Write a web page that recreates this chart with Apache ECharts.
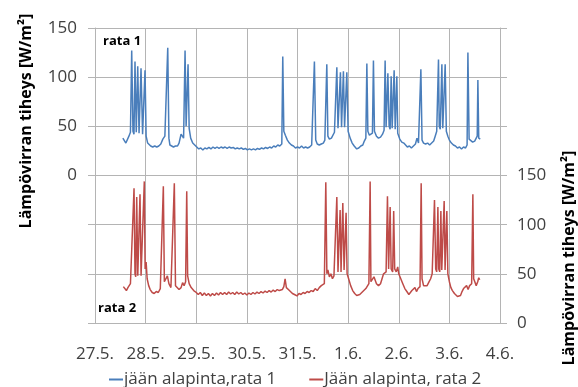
<!DOCTYPE html>
<html>
<head>
<meta charset="utf-8">
<script src="https://cdn.jsdelivr.net/npm/echarts@6/dist/echarts.min.js"></script>
<style>
  html, body { margin: 0; padding: 0; background: #fff; }
  #chart { width: 578px; height: 387px; }
</style>
</head>
<body>
<div id="chart"></div>
<script>
// x = days since 27.5.
const xLabels = ['27.5.', '28.5.', '29.5.', '30.5.', '31.5.', '1.6.', '2.6.', '3.6.', '4.6.'];
const seriesNames = ['jään alapinta,rata 1', 'Jään alapinta, rata 2'];

// rata 1, left axis
const rata1 = [
  [0.55, 38], [0.58, 36], [0.61, 33], [0.64, 35], [0.67, 40], [0.70, 44],
  [0.725, 127], [0.75, 45], [0.77, 42], [0.79, 116], [0.815, 44], [0.844, 111], [0.87, 43],
  [0.909, 109], [0.94, 42], [0.988, 107], [1.01, 40], [1.04, 33], [1.07, 31], [1.10, 30],
  [1.14, 29], [1.18, 30], [1.22, 29], [1.26, 30], [1.30, 32], [1.34, 37], [1.38, 40], [1.41, 42],
  [1.437, 130], [1.46, 38], [1.48, 31], [1.51, 30], [1.55, 29], [1.59, 30], [1.63, 30], [1.66, 33],
  [1.70, 42], [1.72, 41], [1.75, 38], [1.779, 127], [1.80, 50], [1.838, 113], [1.86, 48], [1.89, 38],
  [1.93, 33], [1.97, 31], [2.01, 29], [2.05, 27], [2.09, 28], [2.13, 26], [2.17, 28], [2.21, 27],
  [2.25, 28.5], [2.29, 27], [2.33, 29], [2.37, 27.5], [2.41, 29], [2.45, 27.5], [2.49, 29], [2.53, 28],
  [2.57, 29], [2.61, 27.5], [2.65, 29], [2.69, 28], [2.73, 28.5], [2.77, 27], [2.81, 28], [2.85, 27],
  [2.89, 28], [2.93, 26.5], [2.97, 27.5], [3.01, 26], [3.05, 27], [3.09, 26], [3.13, 27], [3.17, 26],
  [3.21, 27.5], [3.25, 26.5], [3.29, 28], [3.33, 27], [3.37, 28.5], [3.41, 27.5], [3.45, 29], [3.49, 28],
  [3.53, 30], [3.57, 29], [3.61, 31], [3.65, 30], [3.69, 32], [3.709, 121], [3.73, 45], [3.76, 41],
  [3.80, 36], [3.84, 33], [3.88, 31], [3.92, 30], [3.96, 28], [4.00, 29], [4.04, 28], [4.08, 30],
  [4.12, 28], [4.16, 29], [4.20, 28], [4.24, 29], [4.28, 31], [4.31, 33], [4.334, 116], [4.36, 36],
  [4.39, 32], [4.43, 31], [4.47, 32], [4.51, 33], [4.54, 36], [4.56, 38], [4.579, 113], [4.60, 40],
  [4.63, 37], [4.67, 38], [4.70, 40], [4.73, 44], [4.76, 46], [4.777, 110], [4.80, 48], [4.82, 46],
  [4.848, 105], [4.87, 49], [4.89, 47], [4.907, 106], [4.93, 49], [4.95, 47], [4.974, 105], [5.00, 45],
  [5.04, 38], [5.08, 33], [5.12, 30], [5.17, 27], [5.21, 28], [5.25, 30], [5.29, 31], [5.32, 35],
  [5.35, 38], [5.37, 114], [5.39, 45], [5.42, 41], [5.45, 40], [5.48, 43], [5.50, 117], [5.52, 45],
  [5.56, 40], [5.60, 38], [5.64, 39], [5.68, 42], [5.71, 46], [5.731, 117], [5.75, 49], [5.77, 47],
  [5.785, 104], [5.81, 50], [5.83, 47], [5.85, 101], [5.87, 48], [5.89, 46], [5.909, 107], [5.93, 47],
  [5.945, 45], [5.962, 101], [5.98, 43], [6.02, 37], [6.06, 34], [6.10, 33], [6.13, 31], [6.17, 29],
  [6.21, 30], [6.25, 28], [6.29, 30], [6.33, 32], [6.36, 38], [6.39, 33], [6.42, 35], [6.437, 108],
  [6.46, 36], [6.49, 33], [6.53, 32], [6.57, 33], [6.61, 31], [6.65, 33], [6.69, 35], [6.72, 40],
  [6.75, 45], [6.77, 47], [6.785, 118], [6.80, 50], [6.82, 47], [6.852, 113], [6.87, 48], [6.89, 46],
  [6.917, 113], [6.94, 45], [6.97, 40], [7.00, 36], [7.04, 33], [7.08, 31], [7.12, 30], [7.16, 28],
  [7.20, 29], [7.24, 27], [7.28, 29], [7.32, 28], [7.35, 31], [7.366, 125], [7.39, 37], [7.42, 36],
  [7.46, 34], [7.50, 35], [7.53, 37], [7.55, 40], [7.563, 97], [7.58, 38], [7.61, 37]
];

// rata 2, right axis
const rata2 = [
  [0.56, 37], [0.59, 35], [0.62, 33], [0.65, 36], [0.68, 38], [0.70, 40], [0.73, 42],
  [0.771, 137], [0.79, 50], [0.805, 47], [0.824, 128], [0.845, 48], [0.865, 46], [0.889, 131],
  [0.91, 48], [0.94, 50], [0.974, 144], [0.99, 55], [1.01, 62], [1.03, 45], [1.06, 38], [1.09, 34],
  [1.13, 31], [1.17, 30], [1.21, 32], [1.25, 31], [1.29, 35], [1.32, 37], [1.35, 139], [1.37, 42],
  [1.40, 45], [1.43, 48], [1.46, 40], [1.50, 36], [1.53, 38], [1.567, 142], [1.59, 38], [1.62, 36],
  [1.66, 34], [1.70, 36], [1.73, 41], [1.76, 38], [1.79, 42], [1.812, 134], [1.83, 48], [1.86, 40],
  [1.90, 36], [1.95, 33], [2.00, 31], [2.04, 29], [2.08, 31], [2.12, 28], [2.16, 30.5], [2.20, 28],
  [2.24, 30], [2.28, 27.5], [2.32, 30], [2.36, 28], [2.40, 30.5], [2.44, 28.5], [2.48, 31], [2.52, 29],
  [2.56, 31], [2.60, 29], [2.64, 31.5], [2.68, 29.5], [2.72, 31], [2.76, 29], [2.80, 31.5], [2.84, 29.5],
  [2.88, 31], [2.92, 29], [2.96, 30.5], [3.00, 28.5], [3.04, 30.5], [3.08, 29], [3.12, 31], [3.16, 29.5],
  [3.20, 31.5], [3.24, 30], [3.28, 32], [3.32, 30.5], [3.36, 32.5], [3.40, 31], [3.44, 33], [3.48, 31.5],
  [3.52, 33.5], [3.56, 32], [3.60, 34], [3.64, 33], [3.67, 35], [3.70, 34], [3.73, 37], [3.755, 45],
  [3.78, 36], [3.82, 34], [3.86, 32], [3.90, 30], [3.94, 29], [3.99, 27.5], [4.03, 30], [4.07, 29],
  [4.11, 31], [4.15, 30], [4.19, 32], [4.23, 31], [4.27, 33], [4.31, 32], [4.35, 35], [4.39, 33],
  [4.43, 36], [4.47, 38], [4.53, 40], [4.559, 143], [4.58, 50], [4.60, 54], [4.63, 47], [4.66, 50],
  [4.69, 45], [4.72, 48], [4.75, 50], [4.777, 128], [4.80, 52], [4.82, 50], [4.842, 115], [4.86, 52],
  [4.875, 51], [4.895, 122], [4.92, 54], [4.94, 52], [4.96, 112], [4.98, 50], [5.01, 45], [5.05, 38],
  [5.09, 33], [5.13, 30], [5.17, 28], [5.20, 27], [5.23, 29], [5.27, 31], [5.31, 33], [5.35, 35],
  [5.38, 37], [5.41, 40], [5.435, 144], [5.45, 42], [5.48, 40], [5.51, 47], [5.53, 46], [5.56, 40],
  [5.60, 38], [5.64, 40], [5.67, 45], [5.70, 50], [5.75, 52], [5.777, 129], [5.80, 55], [5.815, 53],
  [5.83, 118], [5.85, 55], [5.88, 52], [5.90, 114], [5.92, 55], [5.95, 52], [5.98, 57], [6.00, 50],
  [6.04, 45], [6.08, 40], [6.12, 35], [6.16, 32], [6.20, 29], [6.23, 28], [6.26, 33], [6.29, 31],
  [6.32, 36], [6.35, 32], [6.38, 35], [6.42, 37], [6.443, 142], [6.46, 45], [6.49, 38], [6.52, 40],
  [6.56, 38], [6.60, 42], [6.63, 45], [6.66, 50], [6.69, 52], [6.706, 125], [6.73, 55], [6.75, 52],
  [6.773, 118], [6.79, 55], [6.81, 52], [6.832, 114], [6.85, 54], [6.875, 52], [6.897, 124], [6.915, 54],
  [6.93, 52], [6.95, 114], [6.97, 50], [7.00, 42], [7.03, 36], [7.06, 33], [7.10, 30], [7.13, 28],
  [7.16, 27], [7.19, 29], [7.22, 28], [7.25, 32], [7.28, 35], [7.31, 33], [7.34, 38], [7.37, 34],
  [7.40, 38], [7.44, 40], [7.464, 131], [7.48, 45], [7.51, 46], [7.53, 38], [7.56, 42], [7.58, 46],
  [7.60, 44]
];

const yTitle = 'Lämpövirran tiheys [W/m²]';
const FONT = '"Open Sans", sans-serif';
const gridColor = '#b4b4b4';

const chart = echarts.init(document.getElementById('chart'));
chart.setOption({
  animation: false,
  textStyle: { fontFamily: FONT },
  grid: { left: 95, right: 78, top: 28, bottom: 64 },
  legend: {
    left: 104,
    top: 366,
    itemGap: 33,
    itemWidth: 14,
    itemHeight: 2,
    icon: 'rect',
    textStyle: { fontSize: 17, color: '#404040', fontFamily: FONT, padding: [0, 0, 0, -4] },
    data: seriesNames
  },
  xAxis: {
    type: 'value',
    min: 0,
    max: 8,
    interval: 1,
    axisLine: { lineStyle: { color: gridColor } },
    axisTick: { show: false },
    splitLine: { show: true, lineStyle: { color: gridColor } },
    axisLabel: {
      margin: 23,
      fontSize: 17,
      color: '#404040',
      formatter: v => xLabels[Math.round(v)] || ''
    }
  },
  yAxis: [{
    type: 'value',
    min: -150,
    max: 150,
    interval: 50,
    axisLine: { show: true, lineStyle: { color: gridColor } },
    axisTick: { show: true, length: 7, lineStyle: { color: gridColor } },
    splitLine: { show: true, lineStyle: { color: gridColor } },
    axisLabel: {
      margin: 18,
      fontSize: 17,
      color: '#404040',
      formatter: v => v >= 0 ? v : ''
    }
  }, {
    type: 'value',
    min: 0,
    max: 300,
    interval: 50,
    position: 'right',
    axisLine: { show: true, lineStyle: { color: gridColor } },
    axisTick: { show: true, length: 7, lineStyle: { color: gridColor } },
    splitLine: { show: false },
    axisLabel: {
      margin: 17,
      fontSize: 17,
      color: '#404040',
      formatter: v => v <= 150 ? v : ''
    }
  }],
  graphic: [
    { type: 'text', x: 26, y: 121, rotation: Math.PI / 2,
      style: { text: yTitle, font: 'bold 16px ' + FONT, fill: '#000', textAlign: 'center', textVerticalAlign: 'middle' } },
    { type: 'text', x: 569, y: 258, rotation: Math.PI / 2,
      style: { text: yTitle, font: 'bold 16px ' + FONT, fill: '#000', textAlign: 'center', textVerticalAlign: 'middle' } },
    { type: 'text', x: 103, y: 41,
      style: { text: 'rata 1', font: 'bold 13px ' + FONT, fill: '#000', textVerticalAlign: 'middle' } },
    { type: 'text', x: 98, y: 308,
      style: { text: 'rata 2', font: 'bold 13px ' + FONT, fill: '#000', textVerticalAlign: 'middle' } }
  ],
  series: [{
    name: seriesNames[0],
    type: 'line',
    yAxisIndex: 0,
    data: rata1,
    symbol: 'none',
    lineStyle: { color: '#4a7ebb', width: 1.5 },
    itemStyle: { color: '#4a7ebb' }
  }, {
    name: seriesNames[1],
    type: 'line',
    yAxisIndex: 1,
    data: rata2,
    symbol: 'none',
    lineStyle: { color: '#be4b48', width: 1.5 },
    itemStyle: { color: '#be4b48' }
  }]
});
</script>
</body>
</html>
